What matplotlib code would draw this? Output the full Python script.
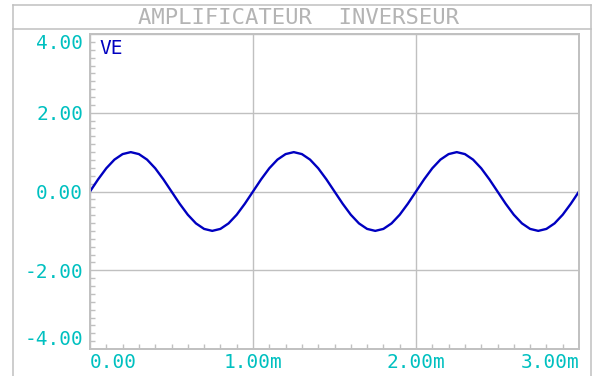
import matplotlib
matplotlib.use('Agg')
import matplotlib.pyplot as plt
from matplotlib.lines import Line2D
from matplotlib.ticker import MultipleLocator

# Data (time in ms, voltage in V)
time_ms = [0.00, 0.05, 0.10, 0.15, 0.20, 0.25, 0.30, 0.35, 0.40, 0.45,
           0.50, 0.55, 0.60, 0.65, 0.70, 0.75, 0.80, 0.85, 0.90, 0.95,
           1.00, 1.05, 1.10, 1.15, 1.20, 1.25, 1.30, 1.35, 1.40, 1.45,
           1.50, 1.55, 1.60, 1.65, 1.70, 1.75, 1.80, 1.85, 1.90, 1.95,
           2.00, 2.05, 2.10, 2.15, 2.20, 2.25, 2.30, 2.35, 2.40, 2.45,
           2.50, 2.55, 2.60, 2.65, 2.70, 2.75, 2.80, 2.85, 2.90, 2.95,
           3.00]
ve = [0.00, 0.31, 0.59, 0.81, 0.95, 1.00, 0.95, 0.81, 0.59, 0.31,
      0.00, -0.31, -0.59, -0.81, -0.95, -1.00, -0.95, -0.81, -0.59, -0.31,
      0.00, 0.31, 0.59, 0.81, 0.95, 1.00, 0.95, 0.81, 0.59, 0.31,
      0.00, -0.31, -0.59, -0.81, -0.95, -1.00, -0.95, -0.81, -0.59, -0.31,
      0.00, 0.31, 0.59, 0.81, 0.95, 1.00, 0.95, 0.81, 0.59, 0.31,
      0.00, -0.31, -0.59, -0.81, -0.95, -1.00, -0.95, -0.81, -0.59, -0.31,
      0.00]

y_ticks = [-4, -2, 0, 2, 4]
y_labels = ['-4.00', '-2.00', '0.00', '2.00', '4.00']
x_ticks = [0, 1, 2, 3]
x_labels = ['0.00', '1.00m', '2.00m', '3.00m']

GREY = '#c0c0c0'
CYAN = '#00c0c0'
BLUE = '#0000c0'
MONO = 'DejaVu Sans Mono'

W, H = 595, 376
fig = plt.figure(figsize=(W / 100, H / 100), dpi=100)
fig.patch.set_facecolor('white')

# outer frame + title strip (pixel coords converted to figure fraction)
def fx(px):
    return px / W

def fy(py):
    return 1 - py / H

frame = [((13, 5), (591, 5)), ((13, 5), (13, 380)), ((591, 5), (591, 380)),
         ((13, 29), (591, 29))]
for (x0, y0), (x1, y1) in frame:
    fig.add_artist(Line2D([fx(x0), fx(x1)], [fy(y0), fy(y1)],
                          color=GREY, lw=1.1, transform=fig.transFigure))

fig.text(fx(298), fy(18), 'AMPLIFICATEUR  INVERSEUR', ha='center', va='center',
         color='#b4b4b4', fontsize=16, family=MONO, fontweight='light')

# plot area
ax = fig.add_axes([fx(90), 1 - 349 / H, (579 - 90) / W, (349 - 34) / H])
ax.plot(time_ms, ve, color=BLUE, lw=1.7)
ax.set_xlim(0, 3)
ax.set_ylim(-4, 4)

ax.set_yticks(y_ticks)
ax.set_yticklabels(y_labels)
ax.set_xticks(x_ticks)
ax.set_xticklabels(x_labels)
ax.xaxis.set_minor_locator(MultipleLocator(0.1))
ax.yaxis.set_minor_locator(MultipleLocator(0.2))

ax.grid(True, which='major', color=GREY, lw=1.0)
for s in ax.spines.values():
    s.set_color(GREY)
    s.set_linewidth(1.4)

ax.tick_params(which='major', length=0, pad=5, labelcolor=CYAN, labelsize=14)
ax.tick_params(axis='x', which='major', pad=3)
ax.tick_params(which='minor', direction='in', length=3.5, width=1.0, color=GREY)
ax.tick_params(axis='x', which='minor', top=False)
ax.tick_params(axis='y', which='minor', right=False)

for lab in ax.get_yticklabels() + ax.get_xticklabels():
    lab.set_family(MONO)
ylabs = ax.get_yticklabels()
ylabs[0].set_va('bottom')
ylabs[-1].set_va('top')
xlabs = ax.get_xticklabels()
xlabs[0].set_ha('left')
xlabs[-1].set_ha('right')

ax.text(0.02, 0.985, 'VE', transform=ax.transAxes, ha='left', va='top',
        color=BLUE, fontsize=14, family=MONO)

fig.savefig('out.png', dpi=100)
